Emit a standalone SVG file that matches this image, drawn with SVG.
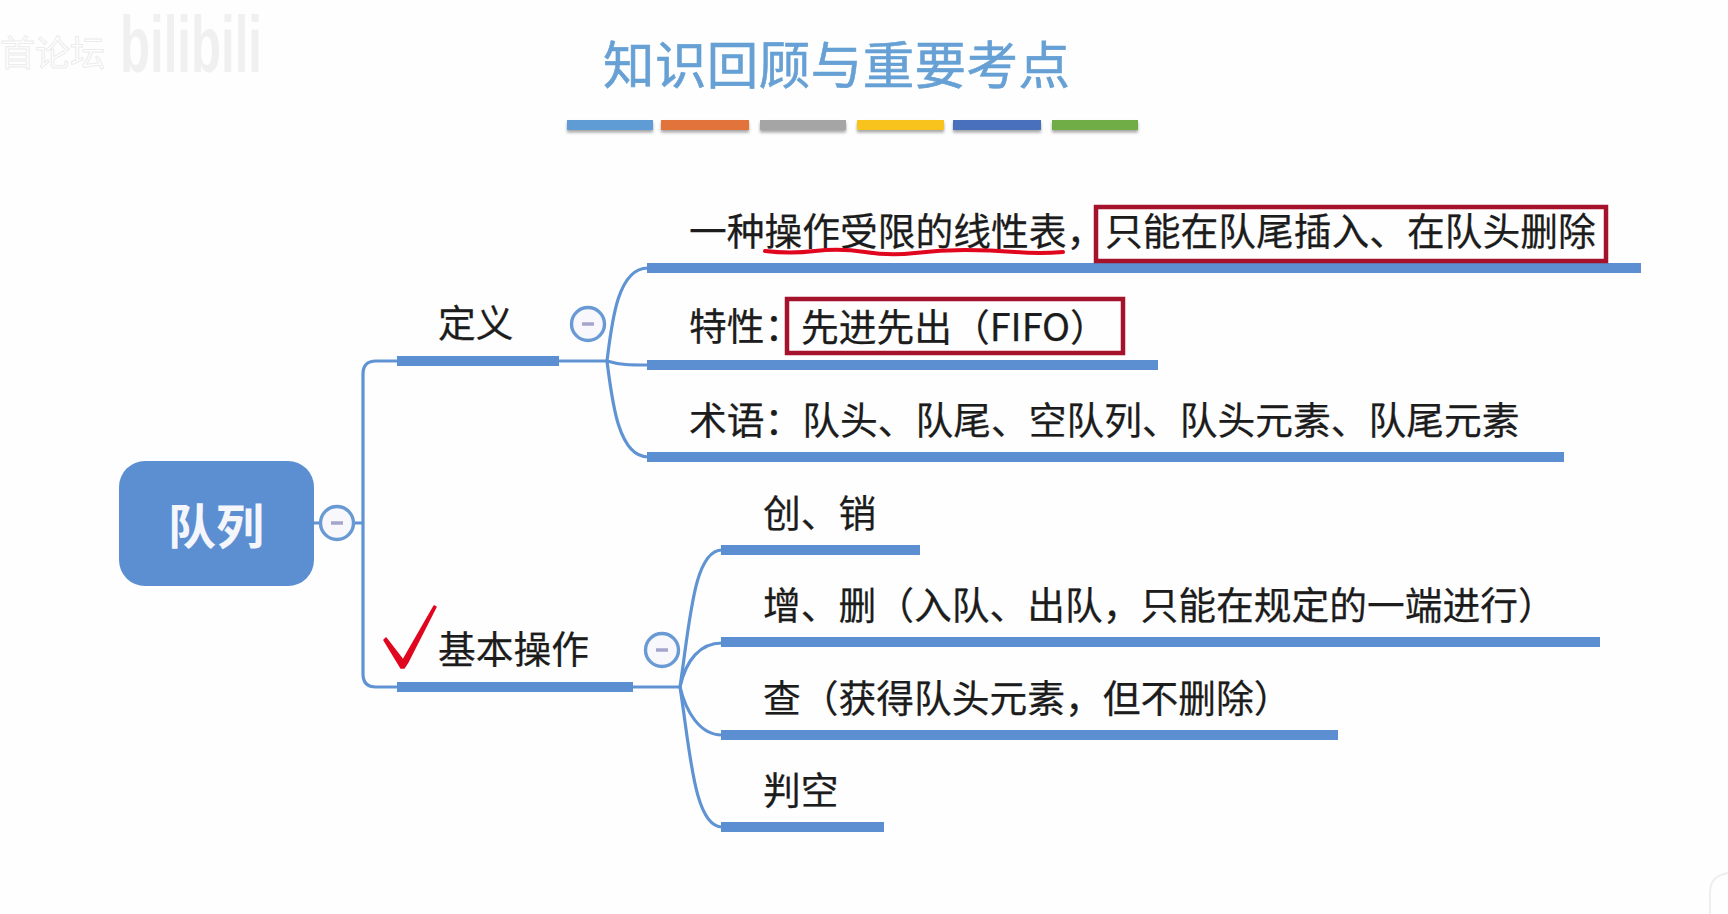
<svg xmlns="http://www.w3.org/2000/svg" width="1728" height="914" viewBox="0 0 1728 914">
<defs>
<filter id="sh" x="-5%" y="-30%" width="110%" height="190%"><feDropShadow dx="0" dy="2.5" stdDeviation="1.5" flood-color="#000" flood-opacity="0.35"/></filter>
</defs>
<style>
text{font-family:"Noto Sans CJK SC","Noto Sans",sans-serif;}
.t{font-size:37.75px;fill:#1c1c1c;stroke:#1c1c1c;stroke-width:0.25;}
.bar{fill:#5b8fd2;}
.c{fill:none;stroke:#5f93d3;stroke-width:3.2;}
.btn{fill:#f7f7fc;stroke:#6a9ad3;stroke-width:3.4;}
.minus{stroke:#a5a5cc;stroke-width:3.5;}
.box{fill:none;stroke:#a5122c;stroke-width:4.5;}
</style>
<rect width="1728" height="914" fill="#fefefe"/>
<g id="watermark">
<text x="0" y="66" font-size="35" fill="#ffffff" stroke="#ececec" stroke-width="1">首论坛</text>
<text x="120" y="72" font-size="80" font-weight="700" fill="#f0f0f0" textLength="142" lengthAdjust="spacingAndGlyphs" style="font-family:'Liberation Sans',sans-serif">bilibili</text>
<path d="M1710 914V892Q1710 876 1728 873" fill="none" stroke="#eeeeee" stroke-width="2"/>
</g>
<g id="title">
<text x="603" y="84" font-size="51.5" fill="#66a0d4" stroke="#66a0d4" stroke-width="0.6" textLength="467">知识回顾与重要考点</text>
<g filter="url(#sh)">
<rect x="567" y="120" width="86" height="10" fill="#5e9bd5"/>
<rect x="661" y="120" width="88" height="10" fill="#e2733a"/>
<rect x="760" y="120" width="86" height="10" fill="#a5a5a5"/>
<rect x="857" y="120" width="87" height="10" fill="#f8c31a"/>
<rect x="953" y="120" width="88" height="10" fill="#4a70bc"/>
<rect x="1052" y="120" width="86" height="10" fill="#70ad47"/>
</g>
</g>
<g id="connectors">
<path class="c" d="M314 523H363"/>
<path class="c" d="M397 361H376Q363 361 363 374V674Q363 687 376 687H397"/>
<path class="c" d="M559 361H607"/>
<path class="c" d="M607 361C612 320 618 268 648 268"/>
<path class="c" d="M607 361C620 365 630 365 648 365"/>
<path class="c" d="M607 361C612 400 618 457 648 457"/>
<path class="c" d="M633 687H680"/>
<path class="c" d="M680 687C690 620 694 550 722 550"/>
<path class="c" d="M680 687C686 660 700 643 722 643"/>
<path class="c" d="M680 687C686 712 700 735 722 735"/>
<path class="c" d="M680 687C690 750 694 827 722 827"/>
</g>
<g id="root">
<rect x="119" y="461" width="195" height="125" rx="26" fill="#5b8fd2"/>
<text x="216" y="544" font-size="48" font-weight="700" fill="#f4f6fb" text-anchor="middle">队列</text>
<circle class="btn" cx="337" cy="523" r="16.5"/><path class="minus" d="M331 523H343"/>
</g>
<g id="node-def">
<rect class="bar" x="397" y="356" width="162" height="10"/>
<text class="t" x="438" y="337">定义</text>
<circle class="btn" cx="588" cy="324" r="16.5"/><path class="minus" d="M582 324H594"/>
</g>
<g id="node-ops">
<rect class="bar" x="397" y="682" width="236" height="10"/>
<text class="t" x="438" y="663">基本操作</text>
<circle class="btn" cx="662" cy="650" r="16.5"/><path class="minus" d="M656 650H668"/>
<path id="check" d="M384 640L386 638L403 660L434 606L436 607L408 662L404 668L401 668Z" fill="#e0061e" stroke="#e0061e" stroke-width="1.5" stroke-linejoin="round"/>
</g>
<g id="n1">
<rect class="bar" x="647" y="263" width="994" height="10"/>
<text class="t" x="689" y="245">一种操作受限的线性表，</text>
<text class="t" x="1105" y="245">只能在队尾插入、在队头删除</text>
<rect class="box" x="1096" y="207" width="510" height="54"/>
<path d="M765 251Q790 254 815 251T865 252T915 253T965 250T1015 252T1063 252" fill="none" stroke="#e0061e" stroke-width="4" stroke-linecap="round"/>
</g>
<g id="n2">
<rect class="bar" x="647" y="360" width="511" height="10"/>
<text class="t" x="689" y="340">特性：</text>
<text class="t" x="801" y="341">先进先出（FIFO）</text>
<rect class="box" x="787" y="299" width="336" height="54"/>
</g>
<g id="n3">
<rect class="bar" x="647" y="452" width="917" height="10"/>
<text class="t" x="689" y="434">术语：队头、队尾、空队列、队头元素、队尾元素</text>
</g>
<g id="n4">
<rect class="bar" x="721" y="545" width="199" height="10"/>
<text class="t" x="763" y="527">创、销</text>
</g>
<g id="n5">
<rect class="bar" x="721" y="637" width="879" height="10"/>
<text class="t" x="763" y="619">增、删（入队、出队，只能在规定的一端进行）</text>
</g>
<g id="n6">
<rect class="bar" x="721" y="730" width="617" height="10"/>
<text class="t" x="763" y="712">查（获得队头元素，但不删除）</text>
</g>
<g id="n7">
<rect class="bar" x="721" y="822" width="163" height="10"/>
<text class="t" x="763" y="804">判空</text>
</g>
</svg>
